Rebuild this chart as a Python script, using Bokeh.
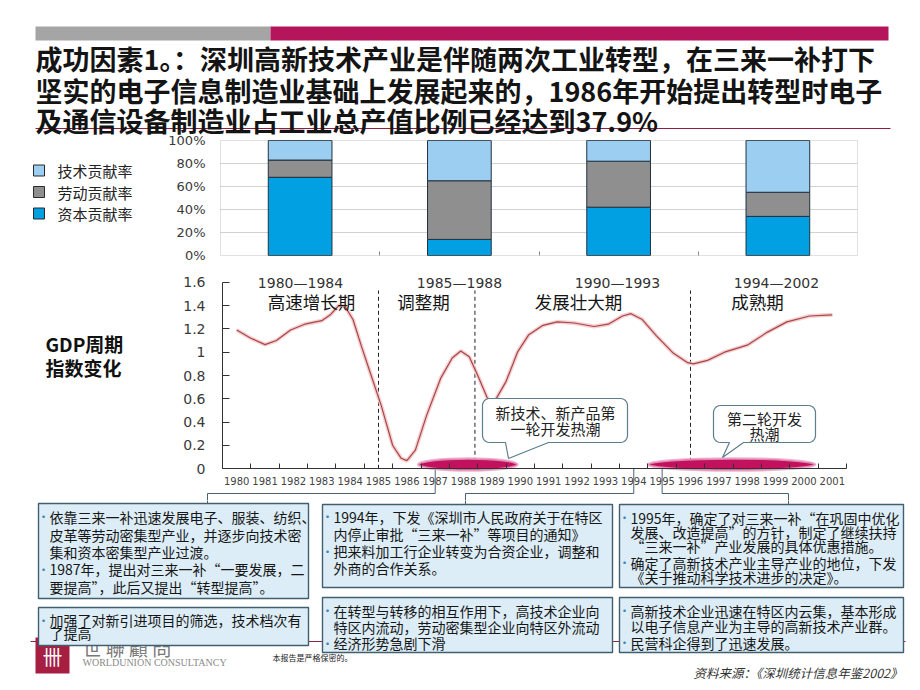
import math
from bokeh.plotting import figure
from bokeh.models import (Range1d, LinearAxis, FixedTicker, PrintfTickFormatter,
                          NumeralTickFormatter, BoxAnnotation, ColumnDataSource)
from bokeh.layouts import column
from bokeh.embed import file_html
from bokeh.resources import INLINE
from bokeh.core.properties import value

# ---------------- data ----------------
periods = ["1980—1984", "1985—1988", "1990—1993", "1994—2002"]
phases = ["高速增长期", "调整期", "发展壮大期", "成熟期"]
series = ["资本贡献率", "劳动贡献率", "技术贡献率"]
capital_share = [68, 14, 42, 34]
labor_share = [15, 51, 40, 21]
tech_share = [17, 35, 18, 45]
share_ticks = [0, 20, 40, 60, 80, 100]

gdp_year = [1980.0, 1980.5, 1981.0, 1981.4, 1981.9, 1982.4, 1983.0, 1983.3, 1983.6, 1983.8,
            1984.1, 1984.4, 1984.7, 1985.1, 1985.5, 1985.8, 1986.0, 1986.3, 1986.7, 1987.2,
            1987.6, 1987.9, 1988.2, 1988.5, 1988.9, 1989.1, 1989.5, 1989.9, 1990.3, 1990.8,
            1991.3, 1991.9, 1992.6, 1993.1, 1993.6, 1993.9, 1994.3, 1994.8, 1995.4, 1995.9,
            1996.1, 1996.6, 1997.2, 1998.0, 1998.7, 1999.4, 2000.2, 2001.0]
gdp_index = [1.19, 1.12, 1.065, 1.10, 1.19, 1.24, 1.27, 1.32, 1.40, 1.40,
             1.28, 1.05, 0.83, 0.54, 0.20, 0.09, 0.07, 0.16, 0.46, 0.78,
             0.95, 1.01, 0.96, 0.80, 0.57, 0.58, 0.75, 1.00, 1.15, 1.23,
             1.26, 1.25, 1.22, 1.24, 1.31, 1.33, 1.28, 1.14, 0.99, 0.91,
             0.90, 0.93, 1.00, 1.06, 1.17, 1.26, 1.31, 1.32]
year_ticks = list(range(1980, 2002))
index_ticks = [0, 0.2, 0.4, 0.6, 0.8, 1.0, 1.2, 1.4, 1.6]
divider_years = [1985, 1988.4, 1996]
wave_labels = [["新技术、新产品第", "一轮开发热潮"], ["第二轮开发", "热潮"]]
wave_start = [1986.4, 1994.5]
wave_end = [1989.9, 2000.4]
policy_years = [1987, 1994, 1995]

title_lines = ["成功因素1。：深圳高新技术产业是伴随两次工业转型，在三来一补打下",
               "坚实的电子信息制造业基础上发展起来的，1986年开始提出转型时电子",
               "及通信设备制造业占工业总产值比例已经达到37.9%"]
box_texts = [
    ["•依靠三来一补迅速发展电子、服装、纺织、", "皮革等劳动密集型产业，并逐步向技术密",
     "集和资本密集型产业过渡。", "•1987年，提出对三来一补“一要发展，二", "要提高”，此后又提出“转型提高”。"],
    ["•加强了对新引进项目的筛选，技术档次有", "了提高"],
    ["•1994年，下发《深圳市人民政府关于在特区", "内停止审批“三来一补”等项目的通知》",
     "•把来料加工行企业转变为合资企业，调整和", "外商的合作关系。"],
    ["•在转型与转移的相互作用下，高技术企业向", "特区内流动，劳动密集型企业向特区外流动", "•经济形势急剧下滑"],
    ["•1995年，确定了对三来一补“在巩固中优化", "发展、改造提高”的方针，制定了继续扶持",
     "“三来一补”产业发展的具体优惠措施。", "•确定了高新技术产业主导产业的地位，下发", "《关于推动科学技术进步的决定》。"],
    ["•高新技术企业迅速在特区内云集，基本形成", "以电子信息产业为主导的高新技术产业群。", "•民营科企得到了迅速发展。"],
]

# ---------------- style / layout ----------------
CJK = value("Noto Sans CJK SC")
bar_colors = ["#00A0E3", "#8F8F8F", "#9CCEF1"]
W = 920


def lin(d0, p0, d1, p1):
    k = (d1 - d0) / (p1 - p0)
    return lambda p: d0 + (p - p0) * k


def base(h, xr, yr):
    p = figure(width=W, height=h, x_range=xr, y_range=yr, output_backend="svg",
               toolbar_location=None, min_border=0, x_axis_type=None, y_axis_type=None)
    p.outline_line_color = None
    p.background_fill_color = "white"
    p.border_fill_color = "white"
    return p


# ---- strip 1: header, title and contribution bars (page y 0..262)
BX = lin(0, 220, 4, 857)
BY = lin(0, 255, 100, 140)
bp = base(262, Range1d(BX(0), BX(W)), Range1d(BY(262), BY(0)))

bp.quad(left=[BX(35), BX(270)], right=[BX(270), BX(888)], top=BY(26), bottom=BY(40),
        fill_color=["#A5A5A5", "#B5165B"], line_color=None)
bp.segment(x0=BX(35), y0=BY(128), x1=BX(890), y1=BY(128), line_color="#8E1E46", line_width=1)
bp.text(x=[BX(35)] * 3, y=[BY(58), BY(89.5), BY(119.5)], text=title_lines, text_font=CJK,
        text_font_size="27px", text_font_style="bold", text_baseline="middle",
        text_align="left", text_color="#141414")

n = len(periods)
grid_vals = share_ticks[1:-1]
bp.segment(x0=0, x1=n, y0=grid_vals, y1=grid_vals, line_color="#D2D2D2", line_width=1)
src = ColumnDataSource(dict(x=[i + 0.5 for i in range(n)], period=periods,
                            capital=capital_share, labor=labor_share, tech=tech_share))
bp.vbar_stack(["capital", "labor", "tech"], x="x", width=0.4, source=src,
              fill_color=bar_colors, line_color="#22313F", line_width=1)
bp.add_layout(BoxAnnotation(left=0, right=n, bottom=0, top=100, fill_color=None,
                            fill_alpha=0, line_color="#9A9A9A", line_width=1))
ya = LinearAxis(fixed_location=0, bounds=(0, 100), ticker=FixedTicker(ticks=share_ticks),
                formatter=PrintfTickFormatter(format="%d%%"), axis_line_color=None,
                major_tick_line_color=None, minor_tick_line_color=None,
                major_tick_in=0, major_tick_out=0, major_label_standoff=15,
                major_label_text_font_size="13px", major_label_text_font="DejaVu Sans",
                major_label_text_color="#3A3A3A")
bp.add_layout(ya, "left")
xa = LinearAxis(fixed_location=0, bounds=(0, n), ticker=FixedTicker(ticks=list(range(1, n))),
                axis_line_color=None, major_tick_in=4, major_tick_out=0,
                major_tick_line_color="#8A8A8A", minor_tick_line_color=None,
                major_label_text_alpha=0, major_label_text_font_size="1px")
bp.add_layout(xa, "below")
leg_py = [170 + 21.5 * i for i in range(len(series))]
bp.rect(x=[BX(38.5)] * 3, y=[BY(v) for v in leg_py], width=11, height=11,
        width_units="screen", height_units="screen", fill_color=bar_colors[::-1],
        line_color="#2A2A2A", line_width=1)
bp.text(x=[BX(57)] * 3, y=[BY(v) for v in leg_py], text=series[::-1], text_font=CJK,
        text_font_size="15px", text_baseline="middle", text_color="#222222")

# ---- strip 2: GDP cycle index (page y 262..500)
LX = lin(1979.5, 222, 2001.5, 846)
LY = lin(0, 468.3, 1.6, 281.7)
PXY = lin(222, 1979.5, 846, 2001.5)   # year -> page x
lp = base(238, Range1d(LX(0), LX(W)), Range1d(LY(500), LY(262)))

box_anchor_x = [207, 465, 788]
conn_xs = [[PXY(y), PXY(y), bx, bx] for y, bx in zip(policy_years, box_anchor_x)]
conn_ys = [[468.3, 493, 493, 505]] * len(policy_years)
lp.multi_line(xs=[[LX(v) for v in c] for c in conn_xs], ys=[[LY(v) for v in c] for c in conn_ys],
              line_color="#4B6272", line_width=1)

lp.segment(x0=divider_years, y0=0, x1=divider_years, y1=LY(290), line_color="#222222",
           line_width=1, line_dash="4 3")
lp.line(gdp_year, gdp_index, line_color="#F3C2C4", line_width=4, line_alpha=0.8)
lp.line(gdp_year, gdp_index, line_color="#A6474A", line_width=1.2)

yl = LinearAxis(fixed_location=1979.5, bounds=(0, 1.6), ticker=FixedTicker(ticks=index_ticks),
                formatter=NumeralTickFormatter(format="0.[0]"), axis_line_color="#333333",
                major_tick_in=7, major_tick_out=0, major_tick_line_color="#333333",
                minor_tick_line_color=None, major_label_standoff=17,
                major_label_text_font_size="14px", major_label_text_font="DejaVu Sans",
                major_label_text_color="#3A3A3A")
lp.add_layout(yl, "left")
xl = LinearAxis(fixed_location=0, bounds=(1979.5, 2001.5),
                ticker=FixedTicker(ticks=year_ticks, minor_ticks=[y - 0.5 for y in year_ticks] + [2001.5]),
                axis_line_color="#333333", major_tick_in=0, major_tick_out=0,
                minor_tick_in=5, minor_tick_out=0, minor_tick_line_color="#333333",
                major_label_standoff=8, major_label_text_font_size="10px",
                major_label_text_font="DejaVu Sans", major_label_text_color="#444444")
lp.add_layout(xl, "below")

ell_x = [(s + e) / 2 for s, e in zip(wave_start, wave_end)]
ell_w = [e - s for s, e in zip(wave_start, wave_end)]
lp.ellipse(x=ell_x, y=LY(464), width=ell_w, height=0.105, fill_color="#C2125E",
           line_color="#EAA0C4", line_width=2.5, line_alpha=0.8)


def callout(x0, y0, x1, y1, r, tail):
    def arc(cx, cy, a0, a1, k=6):
        return [(cx + r * math.cos(math.radians(a0 + (a1 - a0) * i / k)),
                 cy + r * math.sin(math.radians(a0 + (a1 - a0) * i / k))) for i in range(k + 1)]
    ax, tx, ty, bxx = tail
    pts = arc(x0 + r, y0 + r, 180, 270) + arc(x1 - r, y0 + r, 270, 360) + arc(x1 - r, y1 - r, 0, 90)
    pts += [(bxx, y1), (tx, ty), (ax, y1)]
    pts += arc(x0 + r, y1 - r, 90, 180)
    return [LX(p[0]) for p in pts], [LY(p[1]) for p in pts]


callouts = [((482, 398, 627, 442, 7, (505, 508, 458, 548)), 555, [412, 428]),
            ((713, 405, 815, 442, 7, (729, 722, 457, 743)), 764, [418, 433])]
for (geom, cx, lys), lines in zip(callouts, wave_labels):
    px, py = callout(*geom)
    lp.patch(px, py, fill_color="white", line_color="#5E7E8E", line_width=1.2)
    lp.text(x=[LX(cx)] * len(lines), y=[LY(v) for v in lys], text=lines, text_font=CJK,
            text_font_size="15px", text_align="center", text_baseline="middle", text_color="#222222")

period_cx = [300, 459, 617, 776]
lp.text(x=[LX(v) for v in period_cx], y=LY(282), text=periods, text_font=value("DejaVu Sans"),
        text_font_size="14px", text_align="center", text_baseline="middle", text_color="#333333")
phase_cx = [311, 423, 578, 757]
lp.text(x=[LX(v) for v in phase_cx], y=LY(301), text=phases, text_font=CJK,
        text_font_size="17.5px", text_align="center", text_baseline="middle", text_color="#151515")
lp.text(x=[LX(45)] * 2, y=[LY(343), LY(367)], text=["GDP周期", "指数变化"], text_font=CJK,
        text_font_size="19px", text_font_style="bold", text_baseline="middle", text_color="#111111")

# ---- strip 3: policy boxes + footer (page y 500..690)
bt = base(190, Range1d(0, W), Range1d(690, 500))
bt.multi_line(xs=conn_xs, ys=conn_ys, line_color="#4B6272", line_width=1)
bt.segment(x0=30, y0=641, x1=905, y1=641, line_color="#8E2447", line_width=1)
bt.quad(left=35, right=69, top=637, bottom=673, fill_color="#A61E42", line_color=None)
bt.text(x=52, y=656, text=["卌"], text_font=CJK, text_font_size="20px", text_align="center",
        text_baseline="middle", text_color="white")
bt.text(x=82, y=647, text=["世 聯 顧 問"], text_font=value("Noto Sans CJK TC"), text_font_size="19px",
        text_baseline="middle", text_color="#7A7A7A")
bt.text(x=82, y=662, text=["WORLDUNION CONSULTANCY"], text_font=value("Liberation Serif"),
        text_font_size="10px", text_baseline="middle", text_color="#8A8A8A")
bt.text(x=272, y=657, text=["本报告是严格保密的。"], text_font=CJK, text_font_size="8px",
        text_baseline="middle", text_color="#222222")
bt.text(x=693, y=672, text=["资料来源：《深圳统计信息年鉴2002》"], text_font=CJK, text_font_size="12.5px",
        text_font_style="italic", text_baseline="middle", text_color="#333333")

boxes = [(38, 503, 308, 598), (38, 607, 308, 645), (322, 504, 612, 587),
         (322, 597, 612, 652), (619, 504, 903, 587), (619, 597, 903, 652)]
line_ys = [[516, 534, 551, 568.5, 586], [619.5, 632.5], [516, 533, 550.5, 567],
           [610, 626.5, 642.5], [517, 531, 545, 562, 576], [610, 625.5, 642]]
bt.quad(left=[b[0] for b in boxes], right=[b[2] for b in boxes], top=[b[1] for b in boxes],
        bottom=[b[3] for b in boxes], fill_color="#DCEDF7", line_color="#40606F", line_width=1.4)
for b, lines, ys in zip(boxes, box_texts, line_ys):
    tx = b[0] + 11
    bx_, by_, bt_x, bt_y, bt_t = [], [], [], [], []
    for ln, yy in zip(lines, ys):
        if ln.startswith("•"):
            bx_.append(b[0] + 5)
            by_.append(yy)
            ln = ln[1:]
        bt_x.append(tx)
        bt_y.append(yy)
        bt_t.append(ln)
    bt.text(x=bx_, y=by_, text=["•"] * len(bx_), text_font=CJK, text_font_size="12px",
            text_align="center", text_baseline="middle", text_color="#3D86B5")
    bt.text(x=bt_x, y=bt_y, text=bt_t, text_font=CJK, text_font_size="14px",
            text_baseline="middle", text_color="#161616")

layout = column(bp, lp, bt, spacing=0)
open("out.html", "w").write(file_html(layout, INLINE))
